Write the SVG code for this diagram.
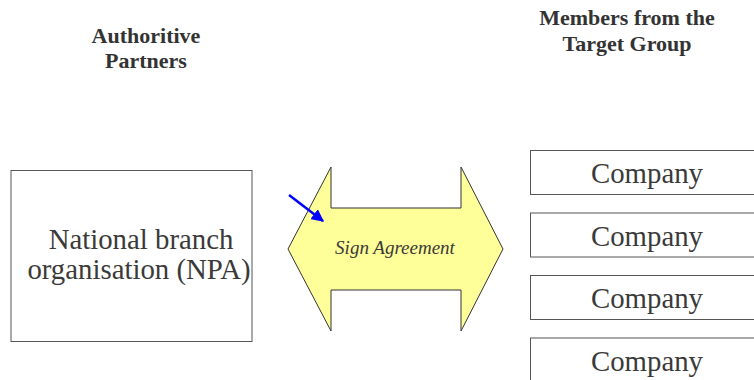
<svg xmlns="http://www.w3.org/2000/svg" width="754" height="380" viewBox="0 0 754 380">
  <style>
    text { font-family: "Liberation Serif", Tinos, "Times New Roman", Times, serif; }
    .hdr { font-weight: bold; font-size: 22px; fill: #333; text-anchor: middle; }
    .box { fill: #fff; stroke: #555; stroke-width: 1; }
    .big { font-size: 28.8px; fill: #3a3a3a; text-anchor: middle; }
    .lbl { font-style: italic; font-size: 19px; fill: #3a3a3a; text-anchor: middle; }
  </style>
  <defs>
    <marker id="blueHead" viewBox="0 0 10 10" refX="9" refY="5" markerWidth="5" markerHeight="5" orient="auto" markerUnits="strokeWidth">
      <path d="M0,0 L10,5 L0,10 Z" fill="#0000ff"/>
    </marker>
  </defs>
  <rect width="754" height="380" fill="#fff"/>

  <!-- column headings -->
  <g id="heading-left">
    <text class="hdr" x="146" y="43">Authoritive</text>
    <text class="hdr" x="146" y="68">Partners</text>
  </g>
  <g id="heading-right">
    <text class="hdr" x="627" y="25">Members from the</text>
    <text class="hdr" x="627" y="51">Target Group</text>
  </g>

  <!-- branch organisation -->
  <g id="npa">
    <rect class="box" x="11" y="170.5" width="241" height="171"/>
    <text class="big" x="141" y="249">National branch</text>
    <text class="big" x="139" y="279">organisation (NPA)</text>
  </g>

  <!-- double-headed agreement arrow -->
  <g id="agreement">
    <polygon points="288,249 331,167 331,208 461,208 461,167 503,249 461,331 461,290 331,290 331,331" fill="#ffff99" stroke="#333" stroke-width="1"/>
    <text class="lbl" x="395" y="254">Sign Agreement</text>
  </g>

  <!-- member companies -->
  <g id="company-1">
    <rect class="box" x="530.5" y="150.5" width="240" height="44"/>
    <text class="big" x="647" y="183">Company</text>
  </g>
  <g id="company-2">
    <rect class="box" x="530.5" y="213" width="240" height="44"/>
    <text class="big" x="647" y="245.5">Company</text>
  </g>
  <g id="company-3">
    <rect class="box" x="530.5" y="275.5" width="240" height="44"/>
    <text class="big" x="647" y="308">Company</text>
  </g>
  <g id="company-4">
    <rect class="box" x="530.5" y="338" width="240" height="44"/>
    <text class="big" x="647" y="370.5">Company</text>
  </g>

  <!-- pointer -->
  <g id="connectors">
    <line x1="289" y1="195" x2="323" y2="221" stroke="#0000ff" stroke-width="2.5" marker-end="url(#blueHead)"/>
  </g>
</svg>
